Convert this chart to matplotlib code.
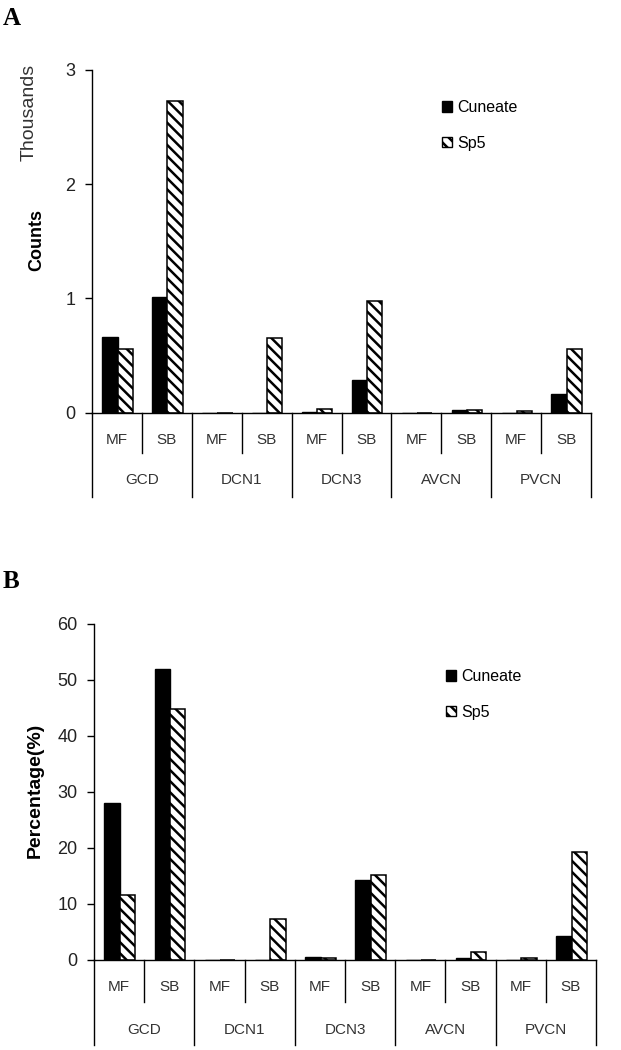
import numpy as np
import matplotlib.pyplot as plt
from matplotlib.patches import Patch

plt.rcParams['font.family'] = ['Liberation Sans', 'DejaVu Sans']
plt.rcParams['hatch.linewidth'] = 1.8

groups = ['GCD', 'DCN1', 'DCN3', 'AVCN', 'PVCN']
subs = ['MF', 'SB']

# panel A, counts in thousands
counts_cuneate = [0.66, 1.01, 0, 0, 0.01, 0.29, 0, 0.02, 0, 0.16]
counts_sp5 = [0.555, 2.73, 0, 0.65, 0.03, 0.98, 0, 0.02, 0.012, 0.555]
# panel B, percentage
pct_cuneate = [28.1, 51.9, 0, 0, 0.5, 14.3, 0, 0.4, 0, 4.2]
pct_sp5 = [11.6, 44.8, 0, 7.3, 0.3, 15.2, 0, 1.4, 0.3, 19.3]

W, H = 621, 1050
HATCH = '\\\\\\'
fig = plt.figure(figsize=(W / 100, H / 100), dpi=100)


def draw_panel(rect, cun, sp5, ymax, ystep, px_h, lab_px, leg_xy):
    ax = fig.add_axes(rect)
    x = np.arange(len(cun))
    bw = 0.305
    ax.bar(x - 0.14, cun, bw, color='black', edgecolor='black', linewidth=1.0)
    ax.bar(x + 0.165, sp5, bw, color='white', edgecolor='black',
           linewidth=1.1, hatch=HATCH)
    ax.set_xlim(-0.5, len(cun) - 0.5)
    ax.set_ylim(0, ymax)
    ax.set_yticks(np.arange(0, ymax + ystep / 2, ystep))
    ax.set_xticks([])
    for s in ['top', 'right']:
        ax.spines[s].set_visible(False)
    ax.spines['left'].set_linewidth(1.0)
    ax.spines['bottom'].set_linewidth(1.0)
    ax.tick_params(axis='y', length=5, width=1.0, pad=7, labelsize=13,
                   labelcolor='#222222')

    # two level category axis drawn below the baseline
    sub_end, grp_end, sub_lab, grp_lab = [-p / px_h for p in lab_px]
    tr = ax.get_xaxis_transform()
    for b in range(len(cun) + 1):
        xb = b - 0.5
        yend = grp_end if b % 2 == 0 else sub_end
        ax.plot([xb, xb], [0, yend], color='black', lw=1.0,
                transform=tr, clip_on=False)
    for i in range(len(cun)):
        ax.text(i, sub_lab, subs[i % 2], transform=tr, ha='center',
                va='center', fontsize=11, color='#333333')
    for g, name in enumerate(groups):
        ax.text(2 * g + 0.5, grp_lab, name, transform=tr, ha='center',
                va='center', fontsize=11, color='#333333')

    handles = [Patch(facecolor='black', edgecolor='black', label='Cuneate'),
               Patch(facecolor='white', edgecolor='black', hatch=HATCH,
                     label='Sp5')]
    ax.legend(handles=handles, loc='upper left',
              bbox_to_anchor=(leg_xy[0] / W, 1 - leg_xy[1] / H),
              bbox_transform=fig.transFigure, frameon=False, fontsize=11.5,
              handlelength=0.65, handleheight=0.65, handletextpad=0.3,
              labelspacing=1.3, borderpad=0, borderaxespad=0)
    return ax


# panel A
axA = draw_panel([92 / W, 1 - 412.7 / H, 499 / W, 342.7 / H],
                 counts_cuneate, counts_sp5, 3, 1, 342.7,
                 (40.6, 84, 27.3, 67.3), (442, 100))
# panel B
axB = draw_panel([94 / W, 1 - 960 / H, 502 / W, 336 / H],
                 pct_cuneate, pct_sp5, 60, 10, 336,
                 (41.7, 85, 27.3, 70), (446, 669))

fig.text(3 / W, 1 - 25 / H, 'A', fontsize=18, fontweight='bold',
         family='Liberation Serif', va='baseline')
fig.text(3 / W, 1 - 588 / H, 'B', fontsize=18, fontweight='bold',
         family='Liberation Serif', va='baseline')
fig.text(29 / W, 1 - 112 / H, 'Thousands', rotation=90, ha='center',
         va='center', fontsize=14, color='#333333')
fig.text(37 / W, 1 - 240 / H, 'Counts', rotation=90, ha='center',
         va='center', fontsize=13, fontweight='bold')
fig.text(35 / W, 1 - 790 / H, 'Percentage(%)', rotation=90, ha='center',
         va='center', fontsize=14, fontweight='bold')

fig.savefig('out.png', dpi=100)
